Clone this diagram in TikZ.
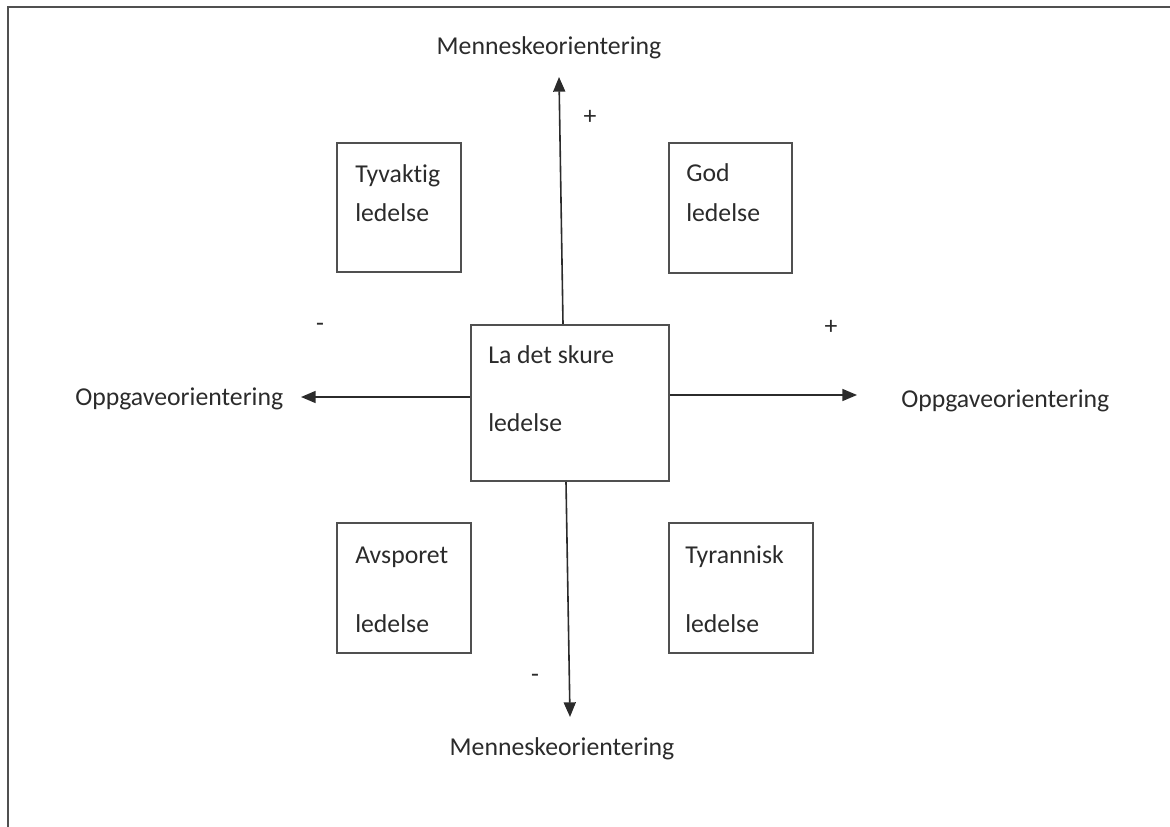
\documentclass[tikz,border=0pt]{standalone}
\usepackage{fontspec}
\setmainfont{Carlito}[Ligatures=NoCommon]
\usetikzlibrary{arrows.meta}
\definecolor{txt}{HTML}{2B2B2B}
\definecolor{edge}{HTML}{505050}
\tikzset{
  lbl/.style={inner sep=0pt, text=txt, font=\fontsize{19.3}{23}\selectfont},
  quad/.style={draw=edge, line width=1.6pt, inner sep=0pt, minimum width=#1},
  axis/.style={draw=txt, line width=1.2pt, -{Triangle[length=11pt,width=9pt]}},
  frameline/.style={draw=edge, line width=1.6pt}
}
\begin{document}
\begin{tikzpicture}[x=0.75pt,y=-0.75pt]
\useasboundingbox (0,0) rectangle (1170,827);
% frame
\coordinate (fl) at (8,827);
\coordinate (fc) at (8,7);
\coordinate (fr) at (1170,7);
\draw[frameline] (fl) -- (fc) -- (fr);

% boxes
\node[quad=148.5pt, minimum height=117pt] (c) at (570,403) {};
\node[quad=93pt, minimum height=96.75pt] (tv) at (399,207.5) {};
\node[quad=92.25pt, minimum height=97.5pt] (gd) at (730.5,208) {};
\node[quad=100.5pt, minimum height=97.5pt] (av) at (404,588) {};
\node[quad=108pt, minimum height=97.5pt] (ty) at (741,588) {};

% box texts
\node[lbl, anchor=base west] (c1) at (488,363) {La det skure};
\node[lbl, anchor=base west] (c2) at (488,431) {ledelse};
\node[lbl, anchor=base west] (tv1) at (355,183) {Tyvaktig};
\node[lbl, anchor=base west] (tv2) at (355,222) {ledelse};
\node[lbl, anchor=base west] (gd1) at (686,182) {God};
\node[lbl, anchor=base west] (gd2) at (686,222) {ledelse};
\node[lbl, anchor=base west] (av1) at (355,563) {Avsporet};
\node[lbl, anchor=base west] (av2) at (355,632) {ledelse};
\node[lbl, anchor=base west] (ty1) at (685,563) {Tyrannisk};
\node[lbl, anchor=base west] (ty2) at (685,632) {ledelse};

% axis labels
\node[lbl, anchor=base] (mtop) at (549,55) {Menneskeorientering};
\node[lbl, anchor=base] (mbot) at (562,755) {Menneskeorientering};
\node[lbl, anchor=base west] (oleft) at (75,405) {Oppgaveorientering};
\node[lbl, anchor=base west] (oright) at (901,407) {Oppgaveorientering};

% signs
\node[lbl] (ptop) at (590,117) {+};
\node[lbl] (mleft) at (320,327) {-};
\node[lbl] (pright) at (831,327) {+};
\node[lbl] (mbots) at (535,678) {-};

% arrow tips
\coordinate (ntip) at (559,77);
\coordinate (stip) at (570,717);
\coordinate (wtip) at (301,397);
\coordinate (etip) at (857,395);

\draw[axis] ([xshift=-5.25pt]c.north) -- (ntip);
\draw[axis] ([xshift=-3pt]c.south) -- (stip);
\draw[axis] ([yshift=4.5pt]c.west) -- (wtip);
\draw[axis] ([yshift=6pt]c.east) -- (etip);
\end{tikzpicture}
\end{document}
